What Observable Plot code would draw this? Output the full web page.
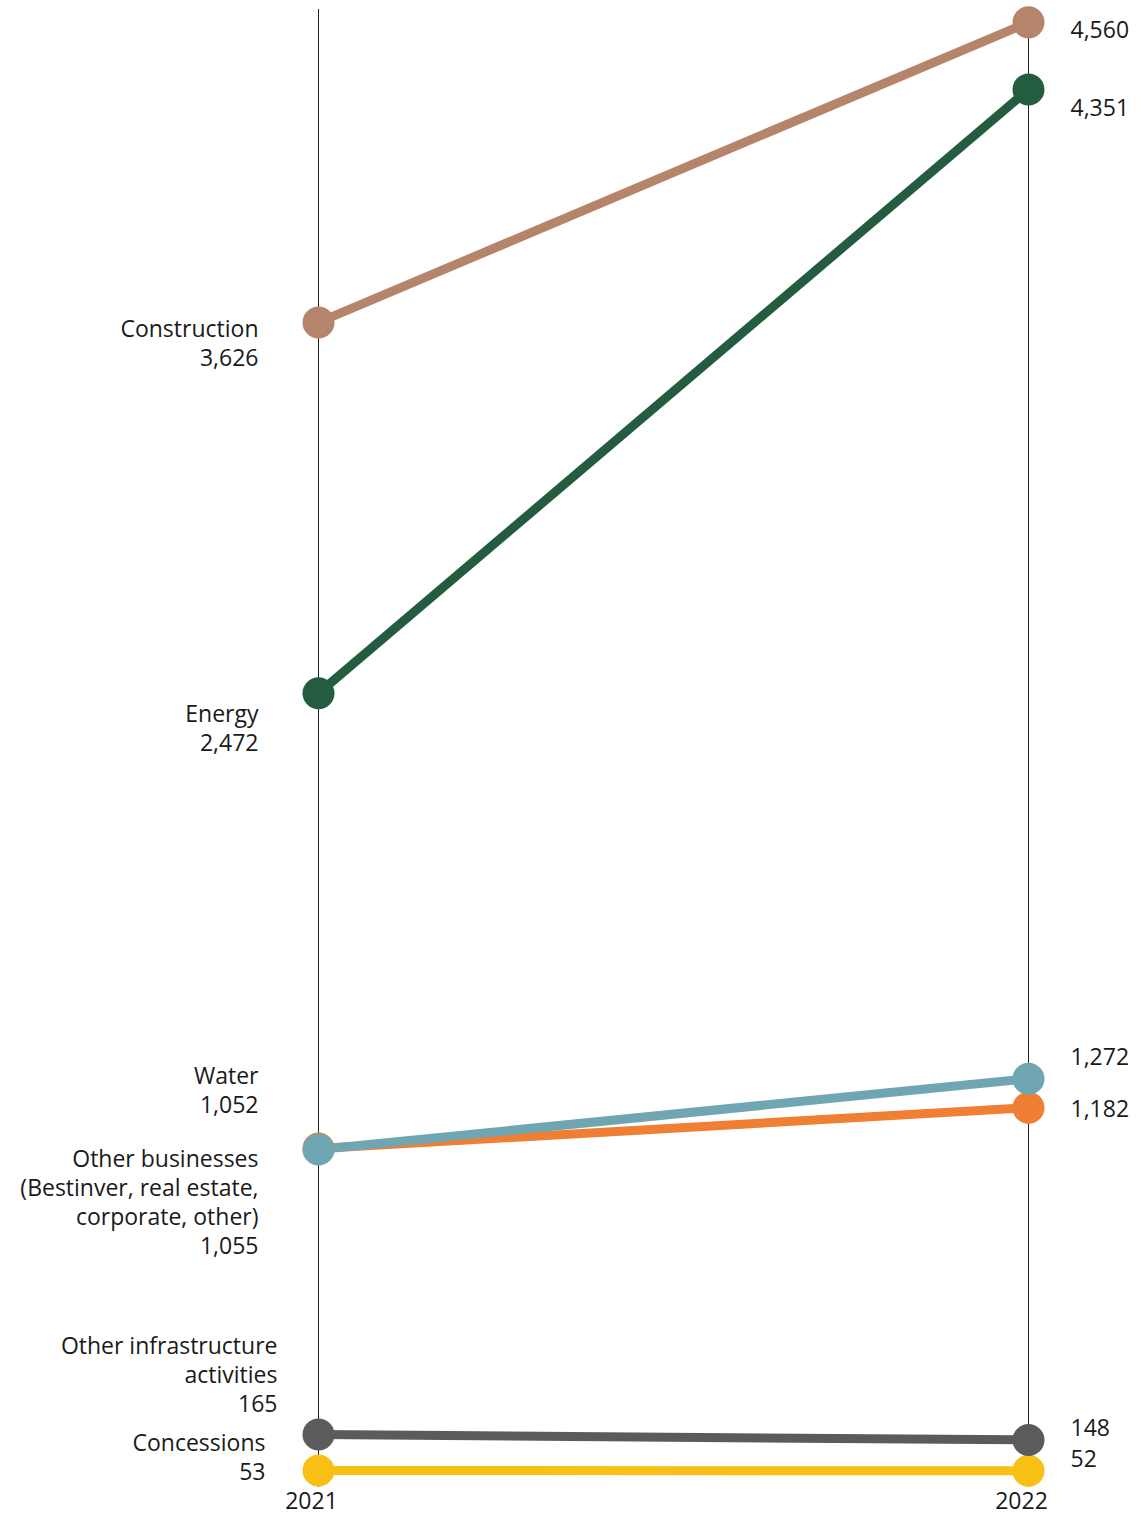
<!DOCTYPE html>
<html>
<head>
<meta charset="utf-8">
<script src="https://cdn.jsdelivr.net/npm/d3@7"></script>
<script src="https://cdn.jsdelivr.net/npm/@observablehq/plot@0.6"></script>
<style>
  html, body { margin: 0; padding: 0; background: #fff; }
  #chart svg { display: block; }
</style>
</head>
<body>
<div id="chart"></div>
<script>
// ---- data ----
const years = ["2021", "2022"];
const categories = ["Construction", "Energy", "Water", "Other businesses", "Other infrastructure activities", "Concessions"];
const labelTexts = [
  "Construction",
  "Energy",
  "Water",
  "Other businesses\n(Bestinver, real estate,\ncorporate, other)",
  "Other infrastructure\nactivities",
  "Concessions"
];
const values2021 = [3626, 2472, 1052, 1055, 165, 53];
const values2022 = [4560, 4351, 1272, 1182, 148, 52];

// ---- styles / layout ----
const colorRange = ["#b5846b", "#235c3f", "#6fa6b1", "#ee7f33", "#5b5b5b", "#f8bf15"];
const drawOrder = ["Construction", "Energy", "Other businesses", "Water", "Concessions", "Other infrastructure activities"];
const leftLabelOffset = {
  "Construction": {dx: -60, dy: -6},
  "Energy": {dx: -60, dy: 8},
  "Water": {dx: -60, dy: -86},
  "Other businesses": {dx: -60, dy: -2},
  "Other infrastructure activities": {dx: -41, dy: -101},
  "Concessions": {dx: -53, dy: -40}
};
const rightLabelDy = {
  "Construction": 8,
  "Energy": 19,
  "Water": -21,
  "Other businesses": 2,
  "Other infrastructure activities": -11,
  "Concessions": -11
};
const fmt = d3.format(",");
const textColor = "#1a1a1a";
const FS = 23;

const rows = drawOrder.flatMap(c => {
  const i = categories.indexOf(c);
  return [
    {category: c, year: years[0], value: values2021[i]},
    {category: c, year: years[1], value: values2022[i]}
  ];
});

const leftLabels = categories.map((c, i) => {
  const o = leftLabelOffset[c];
  return Plot.text([{category: c, year: years[0], value: values2021[i], label: labelTexts[i] + "\n" + fmt(values2021[i])}], {
    x: "year", y: "value", text: "label",
    textAnchor: "end", lineAnchor: "top", lineHeight: 1.26,
    dx: o.dx, dy: o.dy, fontSize: FS, fill: textColor
  });
});

const rightLabels = categories.map((c, i) =>
  Plot.text([{category: c, year: years[1], value: values2022[i]}], {
    x: "year", y: "value", text: d => fmt(d.value),
    textAnchor: "start", lineAnchor: "middle",
    dx: 42, dy: rightLabelDy[c], fontSize: FS, fill: textColor
  })
);

const chart = Plot.plot({
  width: 1141,
  height: 1517,
  marginLeft: 318,
  marginRight: 113,
  marginTop: 9,
  marginBottom: 30,
  style: {fontFamily: "'Open Sans', sans-serif", fontSize: FS + "px", color: textColor, background: "#fff", overflow: "visible"},
  x: {type: "point", domain: years, padding: 0, axis: null, label: null},
  y: {domain: [0, 4600], axis: null},
  color: {domain: categories, range: colorRange},
  marks: [
    Plot.ruleX(years, {x: d => d, stroke: "#222", strokeWidth: 1}),
    Plot.line(rows, {x: "year", y: "value", stroke: "category", z: "category", strokeWidth: 9}),
    Plot.dot(rows, {x: "year", y: "value", fill: "category", r: 16}),
    ...leftLabels,
    ...rightLabels,
    Plot.axisX({tickSize: 0, tickPadding: 5, fontSize: FS, dx: -7, fill: textColor, label: null})
  ]
});

document.getElementById("chart").appendChild(chart);
</script>
</body>
</html>
